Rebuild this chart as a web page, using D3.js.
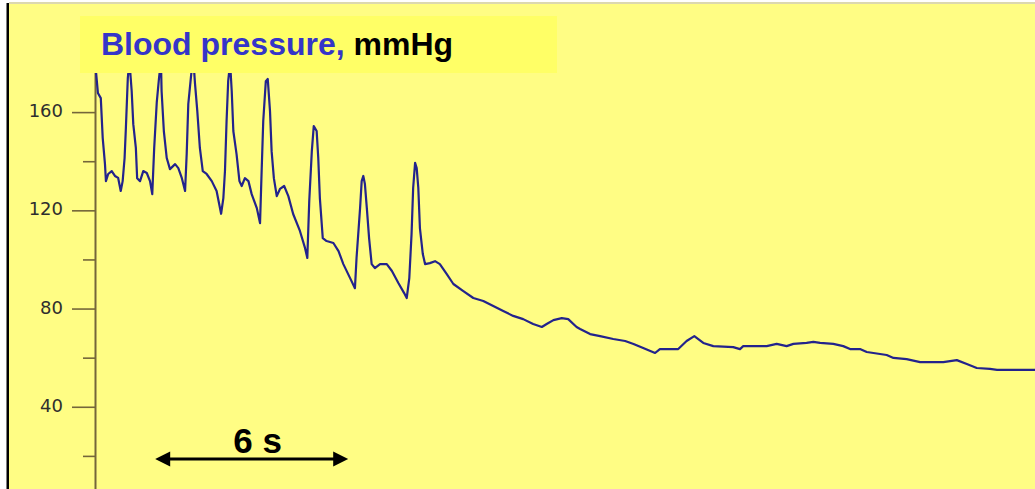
<!DOCTYPE html>
<html>
<head>
<meta charset="utf-8">
<script src="https://cdn.jsdelivr.net/npm/d3@7"></script>
<style>
  html, body { margin: 0; padding: 0; background: #ffffff; }
  svg { display: block; }
</style>
</head>
<body>
<div id="chart"><svg width="1035" height="489"></svg></div>
<script>
// pressure trace, time in seconds from the left axis, pressure in mmHg
const traceTime = [
  0.00, 0.09, 0.18, 0.24, 0.31, 0.34, 0.41, 0.52, 0.62, 0.72, 0.80, 0.86, 0.92, 0.96, 1.02,
  1.07, 1.14, 1.19, 1.27, 1.31, 1.40, 1.50, 1.61, 1.71, 1.78, 1.84, 1.92, 1.99,
  2.05, 2.07, 2.14, 2.23, 2.33, 2.49, 2.59, 2.70, 2.80, 2.85, 2.90, 2.98,
  3.05, 3.11, 3.18, 3.26, 3.35, 3.47, 3.63, 3.78, 3.92, 3.99, 4.04, 4.09, 4.14,
  4.20, 4.25, 4.30, 4.40, 4.49, 4.56, 4.66, 4.77, 4.87, 5.03, 5.13, 5.18, 5.23, 5.31,
  5.37, 5.44, 5.49, 5.56, 5.65, 5.75, 5.88, 6.01, 6.16, 6.37, 6.53, 6.60, 6.66, 6.74,
  6.80, 6.89, 6.94, 6.99, 7.08, 7.20, 7.41, 7.57, 7.72, 7.93, 8.08, 8.13, 8.24, 8.29,
  8.34, 8.39, 8.45, 8.52, 8.60, 8.70, 8.86, 9.07, 9.23, 9.43, 9.61, 9.69, 9.77, 9.84, 9.89,
  9.95, 10.00, 10.05, 10.10, 10.19, 10.26, 10.41, 10.57, 10.72, 10.93, 11.14, 11.45,
  11.76, 12.07, 12.38, 12.69, 13.00, 13.31, 13.62, 13.89, 14.04, 14.25, 14.51, 14.71,
  14.97, 15.08, 15.39, 15.70, 16.11, 16.48, 16.74, 17.04, 17.41, 17.56, 18.13, 18.39,
  18.63, 18.91, 19.22, 19.84, 20.05, 20.15, 20.88, 21.19, 21.50, 21.71, 22.12, 22.33,
  22.54, 22.95, 23.26, 23.47, 23.78, 23.99, 24.61, 24.82, 25.23, 25.65, 26.37, 26.79,
  27.10, 27.41, 27.82, 28.04, 29.22
];
const pressure = [
  181, 167.8, 165.7, 149.4, 138.8, 131.9, 134.8, 136.0, 134.0, 133.2, 127.9, 131.9, 141.3, 153.5, 173.9,
  180.8, 168.6, 155.1, 145.4, 133.1, 131.9, 136.0, 135.2, 131.9, 126.6, 145.4, 164.0, 173.9,
  180.8, 168.6, 152.3, 141.3, 136.8, 138.8, 137.2, 133.1, 127.9, 142.9, 163.3, 173.9,
  182.8, 171.4, 160.4, 145.4, 136.0, 134.8, 131.9, 127.9, 118.6, 125.0, 136.0, 156.4, 172.6,
  180.0, 168.6, 152.3, 142.9, 131.9, 129.9, 133.1, 131.9, 126.6, 120.9, 114.8, 136.0, 156.4, 172.6,
  173.5, 160.4, 144.1, 133.1, 125.8, 128.7, 129.9, 125.8, 118.5, 111.6, 104.6, 100.6, 123.8, 144.1,
  154.3, 152.3, 141.3, 125.0, 108.7, 107.5, 106.7, 103.4, 98.1, 92.4, 88.3, 100.6, 120.9, 131.9,
  134.0, 130.7, 120.9, 108.7, 98.1, 96.5, 98.1, 98.1, 95.3, 90.4, 86.3, 84.3, 92.4, 110.3, 129.1,
  139.3, 137.2, 129.1, 112.8, 102.2, 98.1, 98.5, 99.3, 98.1, 94.1, 90.0, 87.1,
  84.3, 83.1, 81.0, 79.0, 77.0, 75.7, 73.7, 72.5, 73.7, 75.3, 76.1, 75.7,
  72.5, 71.7, 69.6, 68.8, 67.6, 66.8, 65.6, 63.9, 61.9, 63.5, 63.5, 66.8,
  68.8, 66.0, 64.7, 64.3, 63.5, 64.7, 64.7, 65.6, 64.7, 65.6, 66.0, 66.4,
  66.0, 65.6, 64.7, 63.5, 63.5, 62.3, 61.1, 59.9, 59.4, 58.2, 58.2, 59.0,
  57.4, 55.8, 55.4, 55.0, 55.0
];
const majorTicks = [40, 80, 120, 160];
const minorTicks = [20, 60, 100, 140];
const timeSpan = [0, 29.22];
const pressureSpan = [0, 180];
const scaleBarStart = 1.87;   // seconds
const scaleBarLength = 6;     // seconds
const titleMain = "Blood pressure, ";
const titleUnit = "mmHg";
const scaleBarLabel = "6 s";

function drawChart() {
    const svg = d3.select("#chart svg");
    const width = +svg.attr("width");
    const height = +svg.attr("height");

    const x = d3.scaleLinear().domain(timeSpan).range([95, 1035]);
    const y = d3.scaleLinear().domain(pressureSpan).range([505, 63]);

    // page background, grey top rule and black left border
    svg.append("rect").attr("width", width).attr("height", height).attr("fill", "#ffffff");
    svg.append("rect").attr("x", 9).attr("y", 3).attr("width", width - 9).attr("height", height - 3)
        .attr("fill", "#fffd84");
    svg.append("rect").attr("x", 9).attr("y", 2).attr("width", width - 9).attr("height", 2)
        .attr("fill", "#dcd8b0");
    svg.append("rect").attr("x", 6.5).attr("y", 3).attr("width", 2.5).attr("height", height - 3)
        .attr("fill", "#000000");

    // y axis with long labelled ticks and short minor ticks
    const yAxis = d3.axisLeft(y).tickValues(majorTicks).tickSize(23).tickSizeOuter(0).tickPadding(9);
    const yMinor = d3.axisLeft(y).tickValues(minorTicks).tickSize(12).tickFormat("");

    const axisG = svg.append("g").attr("transform", `translate(${x(0)},0)`).call(yAxis);
    const minorG = svg.append("g").attr("transform", `translate(${x(0)},0)`).call(yMinor);
    minorG.select(".domain").remove();

    [axisG, minorG].forEach(g => {
        g.selectAll("line").attr("stroke", "#74663a").attr("stroke-width", 1.6);
    });
    axisG.select(".domain").attr("stroke", "#74663a").attr("stroke-width", 2);
    axisG.selectAll("text")
        .attr("fill", "#2e2e2e")
        .attr("dy", "0.25em")
        .style("font-family", "'DejaVu Sans', Verdana, sans-serif")
        .style("font-size", "18px");

    // pressure trace
    const points = traceTime.map((t, i) => ({ t: t, p: pressure[i] }));
    const line = d3.line().x(d => x(d.t)).y(d => y(d.p));

    svg.append("path")
        .datum(points)
        .attr("d", line)
        .attr("fill", "none")
        .attr("stroke", "#23238c")
        .attr("stroke-width", 2.2)
        .attr("stroke-linejoin", "round");

    // title box, drawn over the tops of the peaks
    svg.append("rect")
        .attr("x", 80).attr("y", 16).attr("width", 477).attr("height", 57)
        .attr("fill", "#ffff66");

    const title = svg.append("text")
        .attr("x", 101).attr("y", 55)
        .style("font-family", "'Liberation Sans', Arial, sans-serif")
        .style("font-weight", "bold")
        .style("font-size", "32px");
    title.append("tspan").attr("fill", "#3535c8").text(titleMain);
    title.append("tspan").attr("fill", "#000000").text(titleUnit);

    // 6 second scale bar
    const barY = 459;
    const x0 = x(scaleBarStart);
    const x1 = x(scaleBarStart + scaleBarLength);
    const head = 15;

    svg.append("line")
        .attr("x1", x0 + head - 2).attr("x2", x1 - head + 2)
        .attr("y1", barY).attr("y2", barY)
        .attr("stroke", "#000000").attr("stroke-width", 3);

    svg.append("path")
        .attr("d", `M${x0},${barY} L${x0 + head},${barY - 7.5} L${x0 + head},${barY + 7.5} Z`)
        .attr("fill", "#000000");
    svg.append("path")
        .attr("d", `M${x1},${barY} L${x1 - head},${barY - 7.5} L${x1 - head},${barY + 7.5} Z`)
        .attr("fill", "#000000");

    svg.append("text")
        .attr("x", (x0 + x1) / 2 + 6).attr("y", 453)
        .attr("text-anchor", "middle")
        .attr("fill", "#000000")
        .style("font-family", "'Liberation Sans', Arial, sans-serif")
        .style("font-weight", "bold")
        .style("font-size", "35px")
        .text(scaleBarLabel);
}

drawChart();
</script>
</body>
</html>
